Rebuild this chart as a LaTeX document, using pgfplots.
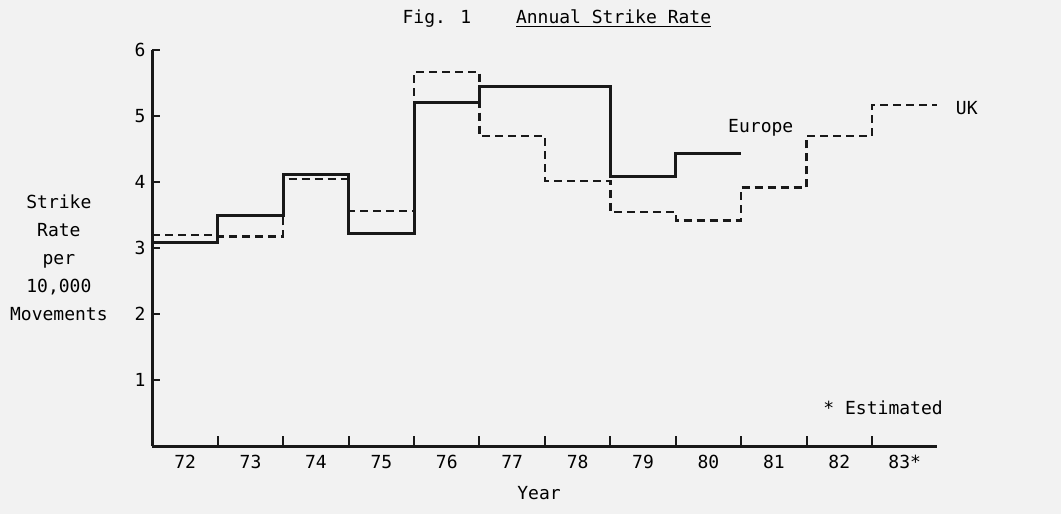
\documentclass[border=0pt]{standalone}
\usepackage{fontspec}
\setmainfont{DejaVu Sans Mono}
\usepackage{pgfplots}
\pgfplotsset{compat=1.18}

\begin{document}
\begin{tikzpicture}
\begin{axis}[
  x=32.7pt, y=33pt,
  xmin=71.5, xmax=83.5, ymin=0, ymax=6,
  axis on top,
  axis x line=bottom, axis y line=left,
  axis line style={-, line width=1.5pt, black!90},
  tick align=inside,
  xtick={72,...,83},
  xticklabels={72,73,74,75,76,77,78,79,80,81,82,83*},
  major x tick style={draw=none},
  minor xtick={72.5,73.5,...,82.5},
  minor tick length=5pt,
  ytick={1,...,6}, major tick length=4pt,
  tick style={line width=1pt, black!90},
  every tick label/.append style={font=\fontsize{9}{11}\selectfont},
  xticklabel style={yshift=-1pt},
  /pgf/number format/assume math mode=true,
  clip=false,
]
% scanned paper tone and picture frame
\fill[black!5] (axis cs:69.17,-1.03) rectangle (axis cs:85.39,6.76);

% Europe
\addplot[const plot, line width=1.5pt, black!90] coordinates {
  (71.5,3.08) (72.5,3.5) (73.5,4.12) (74.5,3.22) (75.5,5.2)
  (76.5,5.45) (77.5,5.45) (78.5,4.08) (79.5,4.43) (80.5,4.43)
};
% UK
\addplot[const plot, line width=1.2pt, black!90, dash pattern=on 4pt off 2.5pt] coordinates {
  (71.5,3.2) (72.5,3.18) (73.5,4.05) (74.5,3.56) (75.5,5.67)
  (76.5,4.7) (77.5,4.02) (78.5,3.55) (79.5,3.42) (80.5,3.92)
  (81.5,4.7) (82.5,5.17) (83.5,5.17)
};

\node[font=\fontsize{9}{11}\selectfont] at (axis cs:75.85,6.48) {Fig. 1};
\node[font=\fontsize{9}{11}\selectfont] at (axis cs:78.55,6.48) {\underline{Annual Strike Rate}};
\node[font=\fontsize{9}{14}\selectfont, align=center] at (axis cs:70.07,2.85)
  {Strike\\Rate\\per\\10,000\\Movements};
\node[font=\fontsize{9}{11}\selectfont] at (axis cs:77.41,-0.71) {Year};
\node[font=\fontsize{9}{11}\selectfont] at (axis cs:80.8,4.82) {Europe};
\node[font=\fontsize{9}{11}\selectfont] at (axis cs:83.95,5.12) {UK};
\node[font=\fontsize{9}{11}\selectfont] at (axis cs:82.67,0.59) {* Estimated};
\end{axis}
\end{tikzpicture}
\end{document}
